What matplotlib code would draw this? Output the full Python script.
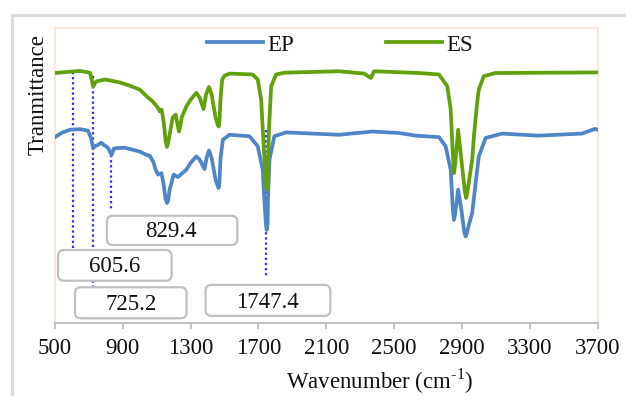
import matplotlib
matplotlib.use("Agg")
import matplotlib.pyplot as plt
from matplotlib.patches import FancyBboxPatch, Rectangle

plt.rcParams['font.family'] = ['Liberation Serif', 'DejaVu Serif']
plt.rcParams['mathtext.fontset'] = 'custom'
plt.rcParams['mathtext.rm'] = 'Liberation Serif'

# ---- data ----
es_wn = [500, 600, 647, 706, 716, 725, 735, 747, 794, 824, 882, 941, 1000, 1041, 1076, 1106, 1118, 1129,
         1141, 1152, 1160, 1167, 1176, 1194, 1212, 1222, 1231, 1239, 1247, 1275, 1300, 1334, 1353, 1376,
         1391, 1408, 1424, 1447, 1460, 1466, 1471, 1476, 1486, 1500, 1529, 1666, 1696, 1716, 1729, 1741,
         1749, 1756, 1762, 1775, 1804, 1853, 2176, 2324, 2363, 2382, 2647, 2765, 2814, 2834, 2846, 2853,
         2861, 2878, 2900, 2918, 2925, 2933, 2961, 2971, 2990, 3000, 3029, 3098, 3700]
es_t = [84.6, 85.1, 85.3, 84.7, 82.5, 80.1, 81.2, 81.8, 82.4, 82.1, 81.4, 80.3, 79.0, 76.7, 75.0, 72.9, 71.6, 72.2,
        68.1, 62.0, 59.6, 60.8, 63.7, 69.5, 70.5, 67.5, 64.8, 66.5, 69.5, 73.3, 75.6, 77.9, 76.3, 72.4,
        77.3, 79.9, 77.3, 69.5, 67.0, 66.5, 69.0, 75.6, 82.4, 83.7, 84.4, 84.1, 82.4, 75.6, 62.0, 50.0,
        45.1, 52.0, 65.4, 80.1, 84.1, 84.7, 85.2, 84.4, 82.9, 85.2, 84.6, 84.1, 80.1, 72.2, 58.0, 50.7,
        54.0, 65.4, 53.6, 44.5, 42.3, 44.5, 55.3, 63.2, 74.6, 79.0, 83.5, 84.6, 84.8]

ep_wn = [500, 541, 588, 647, 694, 712, 725, 741, 755, 771, 794, 812, 834, 847, 863, 912, 961,
         1000, 1039, 1059, 1078, 1094, 1108, 1128, 1141, 1152, 1161, 1168, 1176, 1200, 1225, 1247, 1275,
         1300, 1334, 1353, 1382, 1394, 1408, 1424, 1447, 1460, 1465, 1470, 1476, 1490, 1529, 1647, 1696,
         1725, 1735, 1744, 1749, 1754, 1756, 1765, 1794, 1863, 2176, 2372, 2529, 2628, 2765, 2804, 2834,
         2846, 2853, 2860, 2878, 2897, 2915, 2922, 2930, 2941, 2961, 2980, 3000, 3040, 3137, 3353, 3608,
         3686, 3700]
ep_t = [62.9, 64.4, 65.4, 65.6, 65.1, 62.7, 59.2, 60.0, 60.3, 61.0, 60.0, 59.3, 56.9, 59.0, 59.2, 59.3, 58.6,
        58.0, 56.9, 56.6, 54.7, 51.9, 50.2, 50.7, 46.8, 42.0, 40.6, 41.8, 45.1, 50.2, 49.4, 50.5, 51.9,
        54.2, 56.4, 55.3, 52.1, 55.9, 58.4, 55.9, 48.5, 46.3, 45.7, 47.5, 55.3, 62.0, 63.7, 63.2, 59.8,
        51.9, 41.7, 33.5, 31.5, 33.5, 41.7, 55.3, 63.2, 64.5, 63.7, 64.8, 64.3, 63.4, 62.9, 59.8, 51.9,
        39.0, 34.9, 37.0, 45.1, 38.3, 30.5, 29.3, 30.5, 33.2, 37.2, 46.8, 56.4, 62.6, 64.1, 63.4, 64.1,
        65.7, 65.4]

series_names = ['EP', 'ES']
series_colors = ['#4f86c6', '#62a00c']

peak_labels = ['829.4', '605.6', '725.2', '1747.4']
peak_wn = [829.4, 605.6, 725.2, 1747.4]
xticks = [500, 900, 1300, 1700, 2100, 2500, 2900, 3300, 3700]

# ---- layout (annotation styling) ----
W, H = 626, 396
FS = 16.5
fig = plt.figure(figsize=(W / 100, H / 100), dpi=100)
ax = fig.add_axes([55 / W, 1 - 323 / H, (597.5 - 55) / W, (323 - 27.5) / H])
ax.set_xlim(500, 3700)
ax.set_ylim(0, 100)

# dotted guide lines: (top, bottom) in axis y units
guide_y = [(56.9, 38.5), (85.1, 21.9), (83.7, 10.1), (65.4, 15.5)]
for wn, (y0, y1) in zip(peak_wn, guide_y):
    ax.plot([wn, wn], [y0, y1], linestyle=(0, (1, 1.3)), color='#2a2aff', lw=1.6, zorder=1)

ax.plot(ep_wn, ep_t, color=series_colors[0], lw=2.7, label=series_names[0], zorder=3,
        solid_joinstyle='round')
ax.plot(es_wn, es_t, color=series_colors[1], lw=2.7, label=series_names[1], zorder=4,
        solid_joinstyle='round')

# label boxes (x0, x1, y0, y1 in data units) and text centers
box_rect = [(806, 1576, 26.4, 36.3), (518, 1188, 14.3, 24.7), (618, 1276, 1.6, 12.1),
            (1388, 2124, 2.4, 12.9)]
text_pos = [(1186, 30.8), (853, 19.2), (947, 6.3), (1753, 7.1)]

fig.canvas.draw()
for (x0, x1, y0, y1), lab, (tx, ty) in zip(box_rect, peak_labels, text_pos):
    (px0, py0) = ax.transData.transform((x0, y0))
    (px1, py1) = ax.transData.transform((x1, y1))
    p = FancyBboxPatch((px0, py0), px1 - px0, py1 - py0,
                       boxstyle='round,pad=0,rounding_size=6',
                       transform=None, facecolor='white', edgecolor='#c0c0c0', lw=1.6, zorder=5)
    fig.patches.append(p)
    fig.text(*fig.transFigure.inverted().transform(ax.transData.transform((tx, ty))), lab,
             ha='center', va='center', fontsize=FS, color='#111111', zorder=6)

for s in ['left', 'top', 'right']:
    ax.spines[s].set_color('#fbe3d3')
    ax.spines[s].set_linewidth(1.2)
ax.spines['bottom'].set_color('#bfbfbf')
ax.spines['bottom'].set_linewidth(1.5)
ax.set_xticks(xticks)
ax.set_xticklabels([str(v) for v in xticks])
ax.tick_params(axis='x', direction='out', length=4.5, width=1.3, color='#bfbfbf',
               labelsize=FS, pad=6, labelcolor='#111111')
ax.set_yticks([])

fig.text(38 / W, 1 - 95 / H, 'Tranmittance', rotation=90, ha='center', va='center',
         fontsize=FS, color='#111111')
fig.text(380 / W, 1 - 381 / H, r'Wavenumber (cm$^{\text{-1}}$)', ha='center', va='center',
         fontsize=FS, color='#111111')

leg = fig.legend(loc='center', bbox_to_anchor=(340 / W, 1 - 45 / H), ncol=2, frameon=False,
                 fontsize=FS, handlelength=2.45, handletextpad=0.2, columnspacing=4.0)
for t in leg.get_texts():
    t.set_color('#111111')

fig.patches.append(Rectangle((12 / W, -0.1), 1.2, 1.1 - 15 / H, transform=fig.transFigure,
                             fill=False, edgecolor='#d9d9d9', lw=2, zorder=0))

fig.savefig('out.png', dpi=100)
